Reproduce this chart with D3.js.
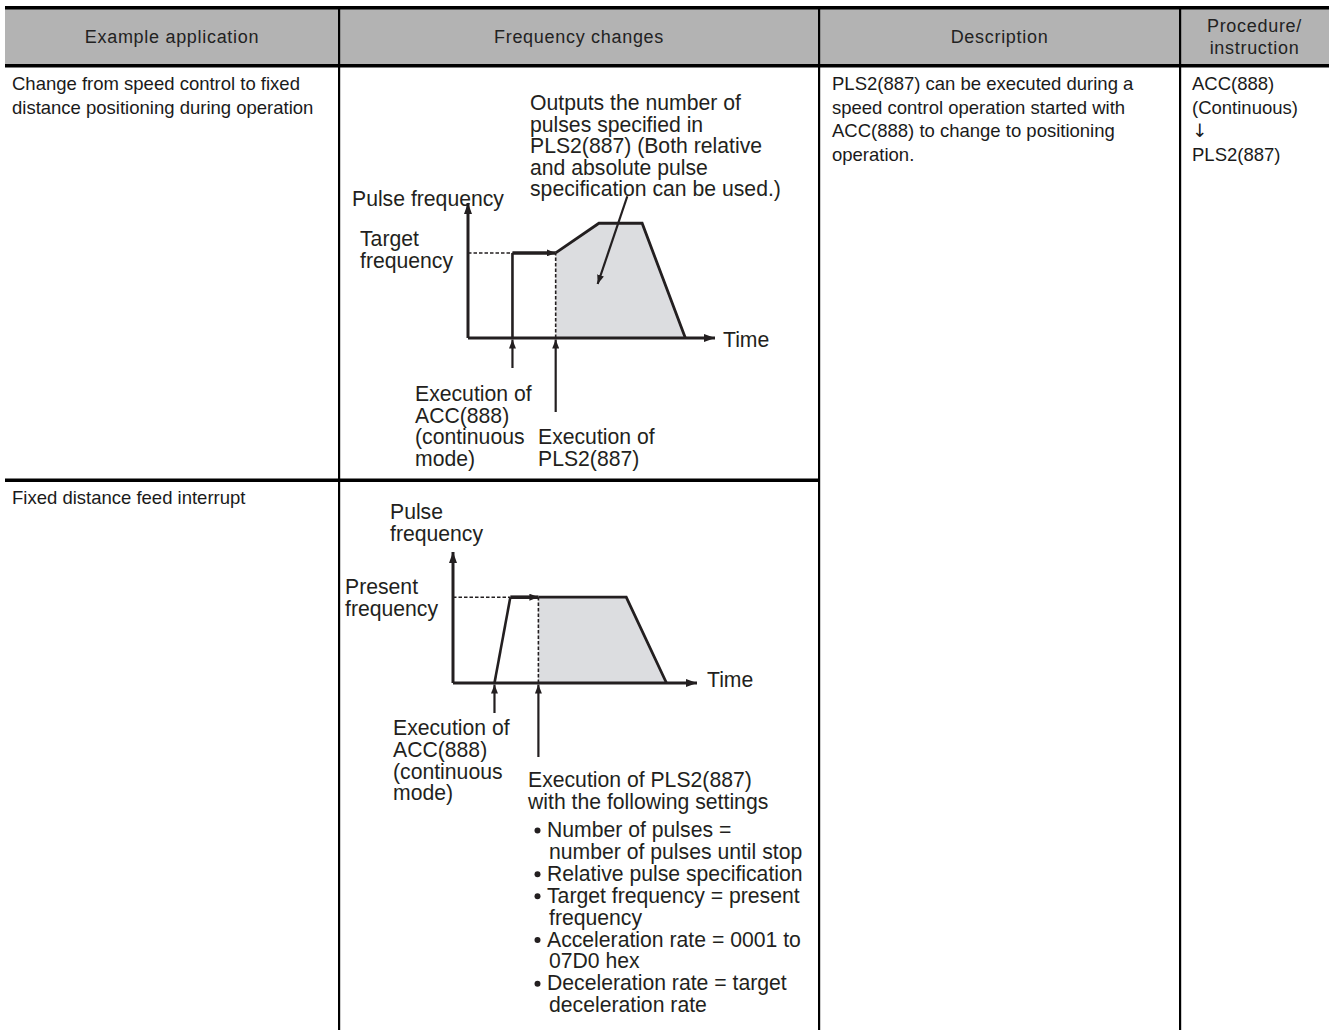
<!DOCTYPE html>
<html><head><meta charset="utf-8">
<script src="https://cdn.jsdelivr.net/npm/d3@7"></script>
<style>body{margin:0;background:#fff}svg{display:block}</style>
</head><body><svg id="c" width="1329" height="1030"></svg>
<script>
// ---------- DATA ----------
const headerLabels = [["Example application"], ["Frequency changes"], ["Description"], ["Procedure/", "instruction"]];
const rowApplications = [
  ["Change from speed control to fixed", "distance positioning during operation"],
  ["Fixed distance feed interrupt"]
];
const descriptionLines = ["PLS2(887) can be executed during a", "speed control operation started with", "ACC(888) to change to positioning", "operation."];
const procedureLines = ["ACC(888)", "(Continuous)", "\u2193", "PLS2(887)"];

// Diagram 1: speed control -> positioning (time / frequency in relative units)
const d1StepTime = [1.8, 1.8, 3.55];
const d1StepFreq = [0, 6.3, 6.3];
const d1ProfileTime = [3.55, 3.55, 5.3, 7.05, 8.8];
const d1ProfileFreq = [0, 6.3, 8.5, 8.5, 0];
const d1Note = ["Outputs the number of", "pulses specified in", "PLS2(887) (Both relative", "and absolute pulse", "specification can be used.)"];
const d1YLabel = ["Pulse frequency"];
const d1LevelLabel = ["Target", "frequency"];
const d1AccLabel = ["Execution of", "ACC(888)", "(continuous", "mode)"];
const d1PlsLabel = ["Execution of", "PLS2(887)"];

// Diagram 2: fixed distance feed interrupt
const d2StepTime = [1.7, 2.35, 3.5];
const d2StepFreq = [0, 6.55, 6.55];
const d2ProfileTime = [3.5, 3.5, 7.1, 8.75];
const d2ProfileFreq = [0, 6.55, 6.55, 0];
const d2YLabel = ["Pulse", "frequency"];
const d2LevelLabel = ["Present", "frequency"];
const d2AccLabel = ["Execution of", "ACC(888)", "(continuous", "mode)"];
const d2PlsLabel = ["Execution of PLS2(887)", "with the following settings"];
const d2Settings = [
  ["Number of pulses =", "number of pulses until stop"],
  ["Relative pulse specification"],
  ["Target frequency = present", "frequency"],
  ["Acceleration rate = 0001 to", "07D0 hex"],
  ["Deceleration rate = target", "deceleration rate"]
];
const timeLabel = "Time";

// ---------- LAYOUT ----------
const svg = d3.select("#c");
const W = 1329, H = 1030;
const colX = [5, 339, 819, 1180, 1329];
const ink = "#231f20";
const FONT = "'Liberation Sans', Arial, Helvetica, sans-serif";

svg.append("rect").attr("x", colX[0]).attr("y", 8).attr("width", W - colX[0]).attr("height", 58).attr("fill", "#b3b3b3");
svg.append("rect").attr("x", colX[0]).attr("y", 6).attr("width", W - colX[0]).attr("height", 3.5).attr("fill", "#000");
svg.append("rect").attr("x", colX[0]).attr("y", 64).attr("width", W - colX[0]).attr("height", 3.5).attr("fill", "#000");
svg.append("rect").attr("x", colX[0]).attr("y", 478.5).attr("width", colX[2] - colX[0] + 1).attr("height", 3.5).attr("fill", "#000");
[1, 2, 3].forEach(i => {
  svg.append("rect").attr("x", colX[i] - 1).attr("y", 8).attr("width", 2.2).attr("height", H - 8).attr("fill", "#000");
});

const headerBase = [[43], [43], [43], [32, 54]];
headerLabels.forEach((lines, i) => {
  const cx = (colX[i] + colX[i + 1]) / 2;
  lines.forEach((t, j) => {
    svg.append("text").attr("x", cx).attr("y", headerBase[i][j]).attr("text-anchor", "middle")
      .attr("font-family", FONT).attr("font-size", 18).attr("letter-spacing", 0.7)
      .attr("fill", "#222").text(t);
  });
});

function bodyLines(lines, x, y0, dy) {
  lines.forEach((t, j) => {
    svg.append("text").attr("x", x).attr("y", y0 + j * dy)
      .attr("font-family", t === "\u2193" ? "'DejaVu Sans', sans-serif" : FONT)
      .attr("font-size", 18.5).attr("fill", "#1a1a1a").text(t);
  });
}
bodyLines(rowApplications[0], 12, 90, 23.5);
bodyLines(rowApplications[1], 12, 504, 23.5);
bodyLines(descriptionLines, 832, 90, 23.5);
bodyLines(procedureLines, 1192, 90, 23.5);

// ---------- DIAGRAM HELPERS ----------
const defs = svg.append("defs");
function marker(id, w, h) {
  defs.append("marker").attr("id", id).attr("markerUnits", "userSpaceOnUse")
    .attr("markerWidth", w).attr("markerHeight", h).attr("refX", w).attr("refY", h / 2)
    .attr("orient", "auto")
    .append("path").attr("d", `M0,0L${w},${h / 2}L0,${h}Z`).attr("fill", ink);
}
marker("axisHead", 11, 8);
marker("smallHead", 9, 7);

const DFS = 21.2;
function diagLines(lines, x, y0, dy) {
  lines.forEach((t, j) => {
    svg.append("text").attr("x", x).attr("y", y0 + j * dy)
      .attr("font-family", FONT).attr("font-size", DFS).attr("fill", ink).text(t);
  });
}

function drawDiagram(cfg) {
  const x = cfg.x, y = cfg.y;
  const g = svg.append("g");
  const line = d3.line().x(d => x(d[0])).y(d => y(d[1]));
  const profile = cfg.profileT.map((t, i) => [t, cfg.profileF[i]]);
  const step = cfg.stepT.map((t, i) => [t, cfg.stepF[i]]);
  const level = cfg.profileF[1];
  g.append("path").attr("d", line(profile) + "Z").attr("fill", "#dcdde0");
  g.append("path").attr("d", line([[0, level], [cfg.dashTo, level]]))
    .attr("stroke", ink).attr("stroke-width", 1.6).attr("stroke-dasharray", "3.5,2").attr("fill", "none");
  g.append("path").attr("d", line([profile[0], profile[1]]))
    .attr("stroke", ink).attr("stroke-width", 1.6).attr("stroke-dasharray", "3.5,2").attr("fill", "none");
  g.append("path").attr("d", line(step.slice(0, 2)))
    .attr("stroke", ink).attr("stroke-width", 2.6).attr("fill", "none");
  g.append("path").attr("d", line(step.slice(1)))
    .attr("stroke", ink).attr("stroke-width", 3.6).attr("fill", "none").attr("marker-end", "url(#smallHead)");
  g.append("path").attr("d", line(profile.slice(1)))
    .attr("stroke", ink).attr("stroke-width", 2.8).attr("fill", "none").attr("stroke-linejoin", "miter");
  g.append("path").attr("d", line([[0, 0], [0, 10]])).attr("stroke", ink).attr("stroke-width", 3)
    .attr("fill", "none").attr("marker-end", "url(#axisHead)");
  g.append("path").attr("d", line([[0, 0], [10, 0]])).attr("stroke", ink).attr("stroke-width", 3)
    .attr("fill", "none").attr("marker-end", "url(#axisHead)");
  [[cfg.stepT[0], cfg.accLen], [cfg.profileT[0], cfg.plsLen]].forEach(([t, len]) => {
    const px = x(t), py = y(0);
    g.append("line").attr("x1", px).attr("x2", px).attr("y1", py + len).attr("y2", py + 1.5)
      .attr("stroke", ink).attr("stroke-width", 2.2).attr("marker-end", "url(#smallHead)");
  });
}

// ---------- DIAGRAM 1 ----------
const d1x = d3.scaleLinear().domain([0, 10]).range([468, 715]);
const d1y = d3.scaleLinear().domain([0, 10]).range([338, 203]);
drawDiagram({x: d1x, y: d1y, stepT: d1StepTime, stepF: d1StepFreq, profileT: d1ProfileTime, profileF: d1ProfileFreq,
  dashTo: d1StepTime[0], accLen: 30, plsLen: 74});
svg.append("line").attr("x1", d1x(6.45)).attr("y1", d1y(10.5)).attr("x2", d1x(5.25)).attr("y2", d1y(4.0))
  .attr("stroke", ink).attr("stroke-width", 2.2).attr("marker-end", "url(#smallHead)");
diagLines(d1Note, 530, 110, 21.6);
diagLines(d1YLabel, 352, 206, 21.6);
diagLines(d1LevelLabel, 360, 246, 21.6);
diagLines([timeLabel], 723, 347, 21.6);
diagLines(d1AccLabel, 415, 401, 21.6);
diagLines(d1PlsLabel, 538, 444.2, 21.6);

// ---------- DIAGRAM 2 ----------
const d2x = d3.scaleLinear().domain([0, 10]).range([453, 697]);
const d2y = d3.scaleLinear().domain([0, 10]).range([683, 552]);
drawDiagram({x: d2x, y: d2y, stepT: d2StepTime, stepF: d2StepFreq, profileT: d2ProfileTime, profileF: d2ProfileFreq,
  dashTo: d2StepTime[1], accLen: 30, plsLen: 74});
diagLines(d2YLabel, 390, 519, 21.6);
diagLines(d2LevelLabel, 345, 594, 21.6);
diagLines([timeLabel], 707, 687, 21.6);
diagLines(d2AccLabel, 393, 735, 21.8);
diagLines(d2PlsLabel, 528, 787, 21.6);
let by = 837;
d2Settings.forEach(item => {
  svg.append("circle").attr("cx", 537.5).attr("cy", by - 6.5).attr("r", 3).attr("fill", ink);
  item.forEach((t, j) => {
    svg.append("text").attr("x", j === 0 ? 547 : 549).attr("y", by)
      .attr("font-family", FONT).attr("font-size", DFS).attr("fill", ink).text(t);
    by += 21.9;
  });
});
</script>
</body></html>
